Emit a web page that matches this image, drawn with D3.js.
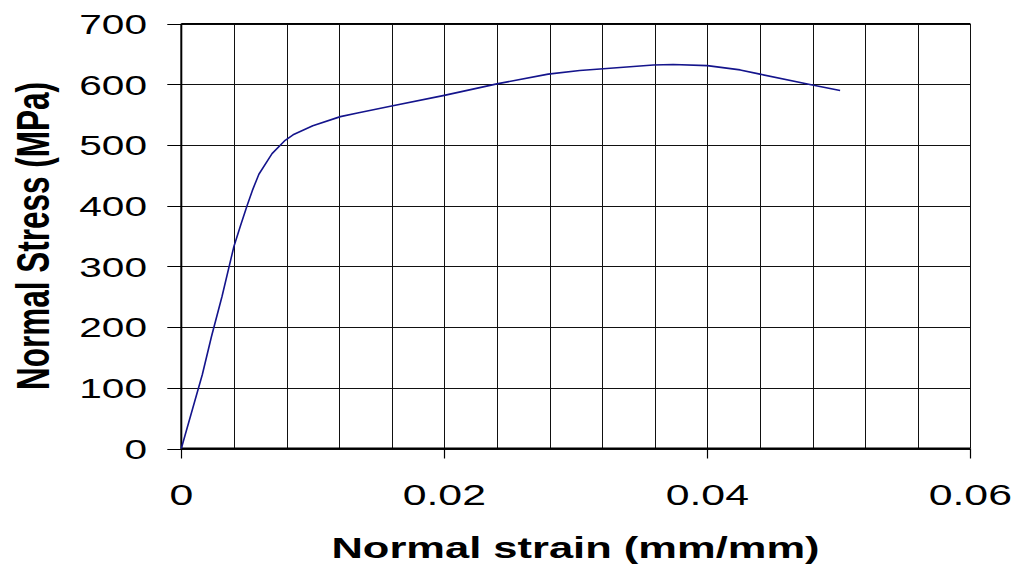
<!DOCTYPE html>
<html>
<head>
<meta charset="utf-8">
<script src="https://cdn.jsdelivr.net/npm/d3@7"></script>
<style>
  html, body { margin: 0; padding: 0; background: #fff; }
  svg { display: block; }
  text { font-family: "Liberation Sans", Arial, sans-serif; fill: #000; }
</style>
</head>
<body>
<svg id="chart" width="1021" height="567"></svg>
<script>
const strain = [0, 0.0016, 0.0023, 0.0031, 0.0040, 0.0045, 0.0050, 0.0054, 0.0059, 0.0069, 0.0079, 0.0085, 0.0100, 0.0121, 0.0134, 0.0159, 0.0200, 0.0240, 0.0279, 0.0303, 0.0321, 0.0359, 0.0374, 0.0400, 0.0425, 0.0440, 0.0478, 0.0501];
const stress = [0, 122, 185, 251, 333, 367, 400, 425, 452, 486, 508, 517, 532, 547, 553, 564, 582, 601, 617, 623, 626, 632, 633, 631, 624, 617, 600, 590];
const xTickLabels = [0, 0.02, 0.04, 0.06];
const yTickLabels = [0, 100, 200, 300, 400, 500, 600, 700];
const xGridStep = 0.004;
const xTitle = "Normal strain (mm/mm)";
const yTitle = "Normal Stress (MPa)";

const svg = d3.select("#chart");
const SX = 1.45;
const x = d3.scaleLinear().domain([0, 0.06]).range([181.3, 970.3]);
const y = d3.scaleLinear().domain([0, 700]).range([448.5, 23.8]);

const xGrid = d3.range(0, 0.06 + 1e-9, xGridStep);

// gridlines
svg.append("g").selectAll("line.v").data(xGrid).join("line")
  .attr("x1", d => Math.round(x(d)) + 0.5).attr("x2", d => Math.round(x(d)) + 0.5)
  .attr("y1", y(700)).attr("y2", y(0))
  .attr("stroke", "#111").attr("stroke-width", 1);
svg.append("g").selectAll("line.h").data(yTickLabels).join("line")
  .attr("x1", x(0)).attr("x2", x(0.06))
  .attr("y1", d => Math.round(y(d)) + 0.5).attr("y2", d => Math.round(y(d)) + 0.5)
  .attr("stroke", "#111").attr("stroke-width", 1);

// axes lines
svg.append("line").attr("x1", x(0)).attr("x2", x(0)).attr("y1", y(700)).attr("y2", y(0) + 1)
  .attr("stroke", "#000").attr("stroke-width", 2);
svg.append("line").attr("x1", x(0)).attr("x2", x(0.06)).attr("y1", y(0)).attr("y2", y(0))
  .attr("stroke", "#000").attr("stroke-width", 2);
svg.append("line").attr("x1", x(0)).attr("x2", x(0.06)).attr("y1", y(700)).attr("y2", y(700))
  .attr("stroke", "#000").attr("stroke-width", 1.5);

// y ticks
svg.append("g").selectAll("line").data(yTickLabels).join("line")
  .attr("x1", x(0) - 14).attr("x2", x(0))
  .attr("y1", d => Math.round(y(d)) + 0.5).attr("y2", d => Math.round(y(d)) + 0.5)
  .attr("stroke", "#000").attr("stroke-width", 1);
// x ticks
svg.append("g").selectAll("line").data(xTickLabels).join("line")
  .attr("x1", d => Math.round(x(d)) + 0.5).attr("x2", d => Math.round(x(d)) + 0.5)
  .attr("y1", y(0)).attr("y2", y(0) + 10)
  .attr("stroke", "#000").attr("stroke-width", 1.2);

// y labels
svg.append("g").selectAll("text").data(yTickLabels).join("text")
  .attr("transform", d => `translate(147,${y(d)}) scale(${SX},1)`)
  .attr("text-anchor", "end").attr("dy", "0.36em")
  .style("font-size", "28px")
  .text(d => d);
// x labels
svg.append("g").selectAll("text").data(xTickLabels).join("text")
  .attr("transform", d => `translate(${x(d)},505) scale(${SX},1)`)
  .attr("text-anchor", "middle")
  .style("font-size", "29.5px")
  .text(d => d === 0 ? "0" : d.toString());

// titles
svg.append("text")
  .attr("transform", `translate(575.5,558) scale(${SX},1)`)
  .attr("text-anchor", "middle")
  .style("font-size", "30px").style("font-weight", "bold")
  .text(xTitle);
svg.append("text")
  .attr("transform", `translate(49,236) scale(${SX},1) rotate(-90)`)
  .attr("text-anchor", "middle")
  .style("font-size", "31.5px").style("font-weight", "bold")
  .text(yTitle);

// curve
const pts = strain.map((s, i) => [s, stress[i]]);
svg.append("path").datum(pts)
  .attr("fill", "none").attr("stroke", "#14148c").attr("stroke-width", 1.6)
  .attr("stroke-linejoin", "round")
  .attr("d", d3.line().x(d => x(d[0])).y(d => y(d[1])));
</script>
</body>
</html>
